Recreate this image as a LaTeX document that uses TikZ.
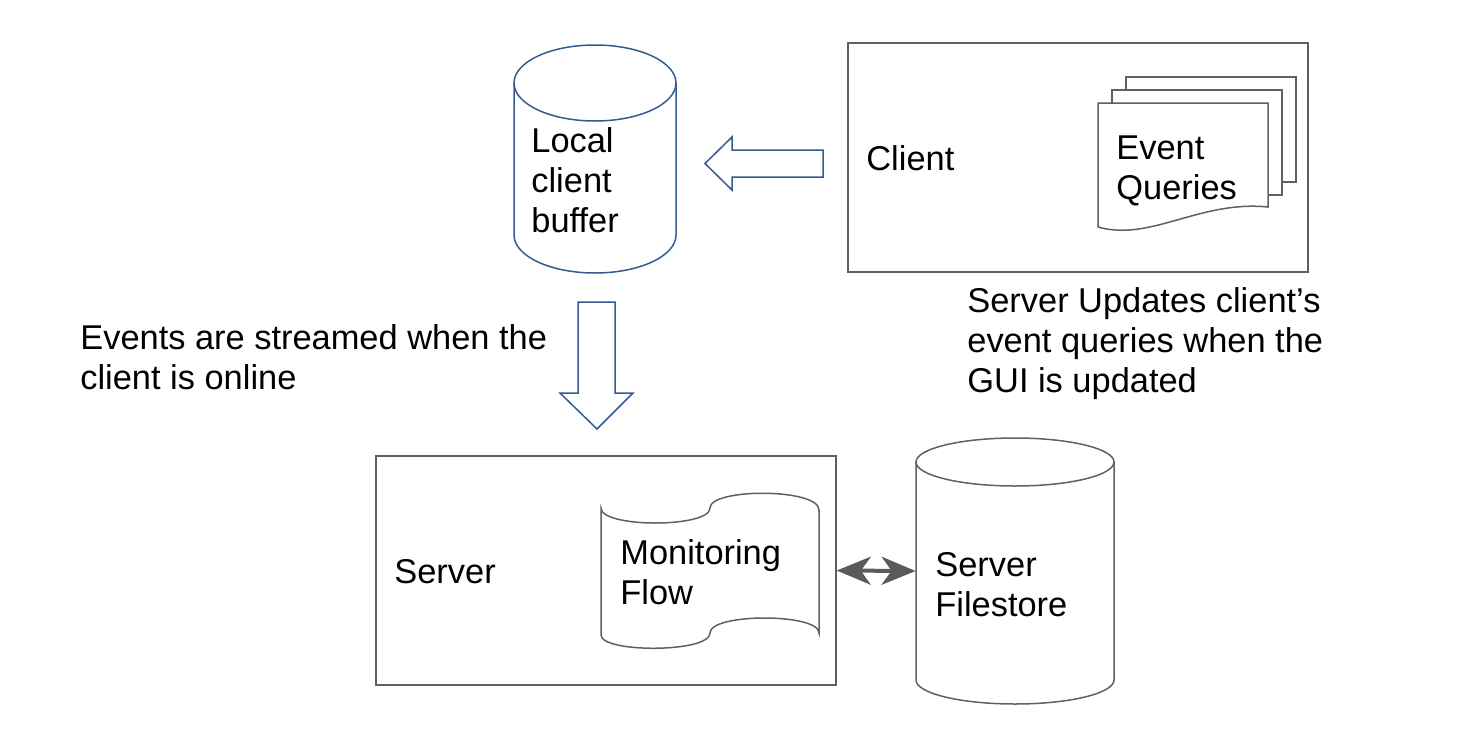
\documentclass[tikz,border=0pt]{standalone}
\usepackage{fontspec}
\setmainfont{Liberation Sans}
\usetikzlibrary{arrows.meta, fit}
\definecolor{navyLine}{HTML}{335B8E}
\definecolor{frameGrey}{HTML}{606060}
\definecolor{arrowGrey}{HTML}{5A5A5A}
\newcommand*{\labelFont}{\fontsize{17.2}{20}\selectfont}
\tikzset{
    frameLine/.style={frameGrey, line width=0.75pt},
    navyStroke/.style={navyLine, line width=0.75pt},
    fatTip/.tip={Stealth[length=17pt, width=14pt, inset=5pt]}
}
\newcommand*{\drum}[7]{% name, xleft, xright, ylid (centre of top ellipse), ybase (centre of bottom ellipse), y radius, style
    \draw [#7] (#2,#4) -- (#2,#5) arc [start angle=180, end angle=0, x radius={(#3-#2)/2}, y radius=#6] -- (#3,#4);
    \draw [#7] ({(#2+#3)/2},#4) ellipse [x radius={(#3-#2)/2}, y radius=#6];
    \node [fit={(#2,#4) (#3,#5)}, inner sep=0pt] (#1) {};
}
\newcommand*{\textLabel}[3]{\node [anchor=west, align=left, inner sep=0pt, font=\labelFont] (#1) at (#2) {#3};} % name, west point, text

\begin{document}
\begin{tikzpicture}[x=0.5pt, y=-0.5pt] {
\useasboundingbox (0,0) rectangle (1458,740);
% top row
\drum{buffer}{514}{676}{83}{235}{38}{navyStroke}
\textLabel{bufferText}{531,180}{Local\\client\\buffer}
\node [draw, frameLine, fit={(848,43) (1308,272)}, inner sep=0pt] (client) {};
\textLabel{clientText}{866,158}{Client}
\draw [frameLine] (1126,90) -- (1126,77) -- (1296,77) -- (1296,182) -- (1282,182);
\draw [frameLine] (1112,103) -- (1112,90) -- (1282,90) -- (1282,195) -- (1268,195);
\draw [frameLine] (1098,103) -- (1268,103) -- (1268,207) .. controls (1200,200) and (1150,242) .. (1098,227) -- cycle;
\textLabel{queriesText}{1116,170.5}{Event\\Queries}
\draw [navyStroke] (823,150) -- (732,150) -- (732,137) -- (705,163.5) -- (732,190) -- (732,177) -- (823,177) -- cycle;
% middle
\draw [navyStroke] (578,302) -- (615,302) -- (615,393) -- (633,393) -- (597,429) -- (560,393) -- (578,393) -- cycle;
\textLabel{streamNote}{80,357.5}{Events are streamed when the\\client is online}
\textLabel{updateNote}{967,344}{Server Updates client’s\\event queries when the\\GUI is updated}
% bottom row
\node [draw, frameLine, fit={(376,456) (836,685)}, inner sep=0pt] (server) {};
\textLabel{serverText}{394,571.5}{Server}
\draw [frameLine] (601,508) .. controls (601,528) and (710,528) .. (710,508) .. controls (710,488) and (819,488) .. (819,510) -- (819,633) .. controls (819,613) and (710,613) .. (710,633) .. controls (710,653) and (601,653) .. (601,635) -- cycle;
\textLabel{flowText}{620,572.5}{Monitoring\\Flow}
\drum{filestore}{916}{1114}{462}{680}{24}{frameLine}
\textLabel{filestoreText}{935,585}{Server\\Filestore}
\draw [arrowGrey, line width=2pt, fatTip-fatTip] (server.east) -- (filestore.west);
}\end{tikzpicture}
\end{document}
